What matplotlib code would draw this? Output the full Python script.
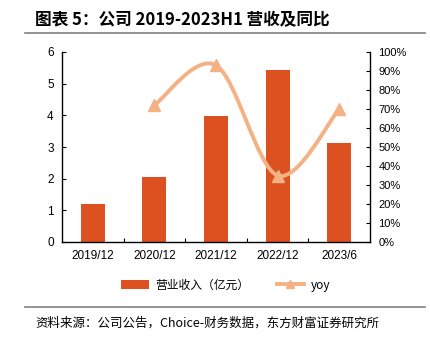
import matplotlib
matplotlib.use("Agg")
import matplotlib.pyplot as plt
from matplotlib.path import Path
from matplotlib.patches import PathPatch
from matplotlib.lines import Line2D
from matplotlib.patches import Patch
import matplotlib.ticker as mticker

categories = ["2019/12", "2020/12", "2021/12", "2022/12", "2023/6"]
revenue = [1.2, 2.05, 3.97, 5.42, 3.12]
yoy_x = [1, 2, 3, 4]
yoy = [0.72, 0.93, 0.35, 0.70]

title = "图表 5：公司 2019-2023H1 营收及同比"
source = "资料来源：公司公告，Choice-财务数据，东方财富证券研究所"
bar_label = "营业收入（亿元）"
line_label = "yoy"

bar_color = "#DD5020"
line_color = "#F4B183"

plt.rcParams['font.family'] = ['Liberation Sans', 'Noto Sans CJK SC', 'DejaVu Sans']
cjk = ['Noto Sans CJK SC', 'DejaVu Sans']

fig = plt.figure(figsize=(4.31, 3.46), dpi=100)
ax = fig.add_axes([62/431, 1-242/346, 308/431, 190/346])
ax2 = ax.twinx()

x = list(range(len(categories)))
ax.bar(x, revenue, width=0.39, color=bar_color, zorder=2)
ax.set_xlim(-0.5, len(categories) - 0.5)
ax.set_ylim(0, 6)
ax.set_yticks(range(0, 7))
ax.set_xticks(x)
ax.set_xticklabels(categories)
ax.set_xticks([i + 0.5 for i in range(len(categories) - 1)], minor=True)
ax.tick_params(axis='x', which='major', length=0, labelsize=8.5, pad=6)
ax.tick_params(axis='x', which='minor', length=3, direction='in', width=0.8)
ax.tick_params(axis='y', direction='in', length=3, labelsize=8.5, pad=6, width=0.8)
for s in ['top', 'right']:
    ax.spines[s].set_visible(False)
ax.spines['left'].set_linewidth(1.0)
ax.spines['bottom'].set_linewidth(1.0)

ax2.set_ylim(0, 1)
ax2.set_yticks([i / 10 for i in range(11)])
ax2.yaxis.set_major_formatter(mticker.PercentFormatter(1.0, decimals=0))
ax2.tick_params(axis='y', direction='in', length=3, labelsize=8, pad=6, width=0.8)
for s in ['top', 'left', 'bottom']:
    ax2.spines[s].set_visible(False)
ax2.spines['right'].set_linewidth(1.0)

# smooth curve (Catmull-Rom style bezier through data points)
pts = list(zip(yoy_x, yoy))
verts = [pts[0]]
codes = [Path.MOVETO]
n = len(pts)
for i in range(n - 1):
    p0 = pts[i - 1] if i > 0 else pts[i]
    p1 = pts[i]
    p2 = pts[i + 1]
    p3 = pts[i + 2] if i + 2 < n else pts[i + 1]
    c1 = (p1[0] + (p2[0] - p0[0]) / 6, p1[1] + (p2[1] - p0[1]) / 6)
    c2 = (p2[0] - (p3[0] - p1[0]) / 6, p2[1] - (p3[1] - p1[1]) / 6)
    verts += [c1, c2, p2]
    codes += [Path.CURVE4] * 3
ax2.add_patch(PathPatch(Path(verts, codes), facecolor='none', edgecolor=line_color, lw=2.8, zorder=3))
ax2.plot(yoy_x, yoy, linestyle='none', marker='^', markersize=8, color=line_color, zorder=4)

handles = [Patch(facecolor=bar_color, edgecolor='none'),
           Line2D([0], [0], color=line_color, lw=2.8, marker='^', markersize=6)]
fig.legend(handles, [bar_label, line_label], loc='center', bbox_to_anchor=(226/431, 1-285/346),
           ncol=2, frameon=False, prop={'family': cjk, 'size': 8.5}, handlelength=2.3,
           columnspacing=2.3, handletextpad=0.6)

fig.text(35/431, 1-20/346, title, fontsize=12, fontweight='bold', family=cjk, va='center', ha='left')
fig.add_artist(Line2D([25/431, 425/431], [1-33/346, 1-33/346], color='#808080', lw=1.2))
fig.add_artist(Line2D([25/431, 425/431], [1-307/346, 1-307/346], color='#808080', lw=1.2))
fig.text(35/431, 1-323/346, source, fontsize=9, family=cjk, va='center', ha='left')

fig.savefig("out.png", dpi=100)
